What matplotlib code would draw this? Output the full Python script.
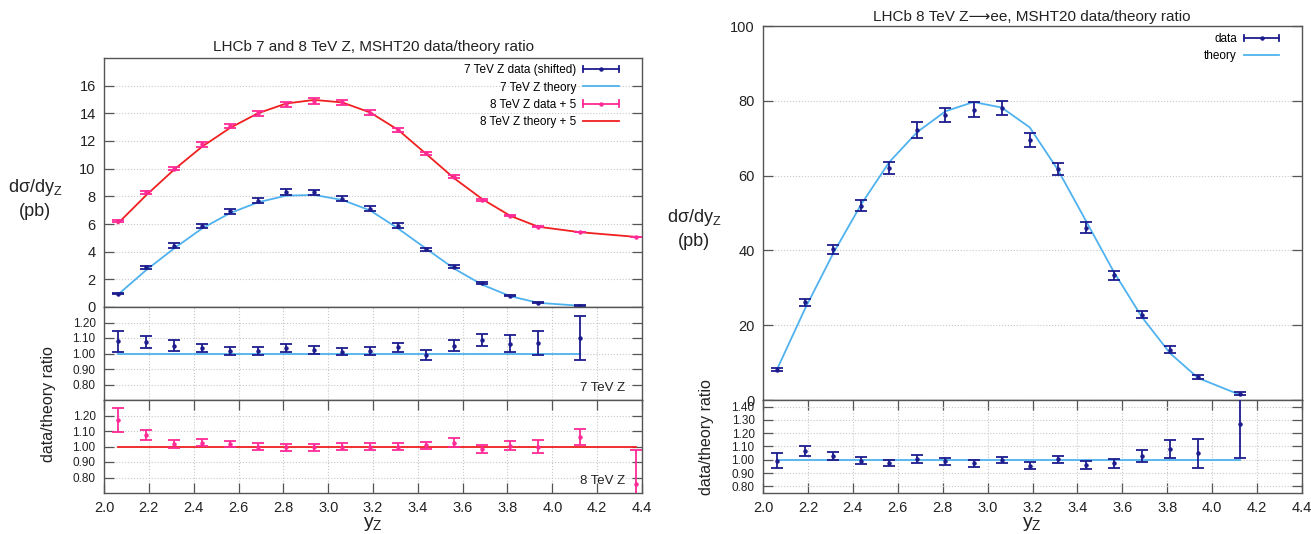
import numpy as np
import matplotlib
matplotlib.use('Agg')
import matplotlib.pyplot as plt
from matplotlib.legend_handler import HandlerBase
from matplotlib.lines import Line2D

plt.rcParams['font.family'] = ['Liberation Sans', 'DejaVu Sans']
plt.rcParams['mathtext.fontset'] = 'custom'
plt.rcParams['mathtext.rm'] = 'Liberation Sans'
plt.rcParams['mathtext.it'] = 'Liberation Sans'

# rapidity bin centres
y_bins = [2.0625, 2.1875, 2.3125, 2.4375, 2.5625, 2.6875, 2.8125, 2.9375, 3.0625,
          3.1875, 3.3125, 3.4375, 3.5625, 3.6875, 3.8125, 3.9375, 4.125, 4.375]

# LHCb 7 TeV Z (pb)
data_7 = [0.97, 2.86, 4.44, 5.87, 6.91, 7.69, 8.32, 8.29, 7.83, 7.11, 5.89, 4.17,
          2.91, 1.75, 0.83, 0.32, 0.099]
err_7 = [0.059, 0.106, 0.152, 0.142, 0.177, 0.189, 0.217, 0.203, 0.170, 0.181, 0.159,
         0.126, 0.094, 0.066, 0.041, 0.023, 0.013]
theory_7 = [0.90, 2.66, 4.23, 5.68, 6.79, 7.57, 8.05, 8.10, 7.74, 6.98, 5.67, 4.21,
            2.77, 1.61, 0.78, 0.30, 0.090]

# LHCb 8 TeV Z (pb), drawn with +5 offset
data_8 = [1.23, 3.29, 5.01, 6.76, 8.09, 9.01, 9.65, 9.91, 9.79, 9.06, 7.80, 6.10,
          4.41, 2.76, 1.60, 0.80, 0.43, 0.05]
err_8 = [0.081, 0.101, 0.128, 0.165, 0.167, 0.189, 0.204, 0.209, 0.206, 0.190, 0.164,
         0.133, 0.112, 0.076, 0.049, 0.034, 0.022, 0.0145]
theory_8 = [1.05, 3.07, 4.93, 6.59, 7.95, 9.01, 9.71, 9.97, 9.79, 9.06, 7.80, 6.06,
            4.30, 2.80, 1.59, 0.80, 0.405, 0.066]
offset_8 = 5

# LHCb 8 TeV Z -> ee (pb)
data_ee = [8.14, 26.09, 40.29, 51.97, 61.98, 72.25, 76.27, 77.61, 78.06, 69.57, 61.8,
           46.08, 33.32, 22.77, 13.5, 6.16, 1.71]
err_ee = [0.47, 0.93, 1.14, 1.41, 1.53, 2.08, 1.93, 1.99, 1.96, 1.90, 1.66, 1.44, 1.20,
          0.93, 0.83, 0.64, 0.34]
theory_ee = [8.2, 24.45, 39.19, 52.34, 63.63, 71.68, 77.2, 79.68, 78.2, 72.9, 61.6,
             47.95, 34.2, 22.15, 12.5, 5.88, 1.35]

x_ticks = [2.0, 2.2, 2.4, 2.6, 2.8, 3.0, 3.2, 3.4, 3.6, 3.8, 4.0, 4.2, 4.4]

DARK = '#1c1c8e'
LIGHT = '#4fb2ee'
PINK = '#ff2a96'
RED = '#f02020'
FRAME = '#555555'
GRID = '#c8c8c8'
TEXT = '#222222'

W, H = 1311, 534


class HBarHandler(HandlerBase):
    # gnuplot-like |--.--| key sample
    def create_artists(self, legend, orig_handle, xdescent, ydescent, width, height,
                       fontsize, trans):
        c = orig_handle.get_color()
        y = height / 2 - ydescent
        x0 = -xdescent
        x1 = x0 + width
        h = 0.4 * height
        bar = Line2D([x0, x1], [y, y], color=c, lw=1.3)
        caps = Line2D([x0, x0, np.nan, x1, x1], [y - h, y + h, np.nan, y - h, y + h],
                      color=c, lw=1.3)
        dot = Line2D([(x0 + x1) / 2], [y], marker='o', ms=2.2, color=c, ls='none')
        for a in (bar, caps, dot):
            a.set_transform(trans)
        return [bar, caps, dot]


def px_axes(left, top, right, bottom):
    return fig.add_axes([left / W, 1 - bottom / H, (right - left) / W, (bottom - top) / H])


def style(ax, xticks, xgrid, ysize):
    for s in ax.spines.values():
        s.set_color(FRAME)
        s.set_linewidth(1.0)
    ax.set_xlim(2.0, 4.4)
    ax.tick_params(axis='y', direction='in', length=7, width=0.9, color=FRAME,
                   left=True, right=True, labelsize=ysize, pad=6, labelcolor=TEXT)
    ax.yaxis.grid(True, ls=':', lw=0.8, color=GRID)
    if xticks or xgrid:
        ax.set_xticks(x_ticks)
        ax.tick_params(axis='x', direction='in', length=7 if xticks else 0, width=0.9,
                       color=FRAME, top=xticks, bottom=xticks, labelbottom=False,
                       labelsize=10.5, pad=6, labelcolor=TEXT)
        ax.xaxis.grid(True, ls=':', lw=0.8, color=GRID)
    else:
        # main panels: no x ticks, horizontal grid only
        ax.set_xticks([])
    ax.set_axisbelow(True)


def draw_data(ax, x, y, e, color):
    ax.errorbar(x, y, yerr=e, fmt='o', ms=2.2, color=color, ecolor=color,
                elinewidth=1.3, capsize=4.5, capthick=1.3, zorder=3)


fig = plt.figure(figsize=(W / 100, H / 100), dpi=100)

x7 = np.array(y_bins[:17])
x8 = np.array(y_bins)
xee = np.array(y_bins[:17])
d7, e7, t7 = map(np.array, (data_7, err_7, theory_7))
d8, e8, t8 = map(np.array, (data_8, err_8, theory_8))
dee, eee, tee = map(np.array, (data_ee, err_ee, theory_ee))

# ---- left: 7 and 8 TeV ----
ax1 = px_axes(104, 58, 642, 307)
style(ax1, False, False, 10.5)
ax1.set_ylim(0, 18)
ax1.set_yticks(range(0, 17, 2))
ax1.plot(x7, t7, color=LIGHT, lw=1.3, zorder=2)
draw_data(ax1, x7, d7, e7, DARK)
ax1.plot(x8, t8 + offset_8, color=RED, lw=1.3, zorder=2)
draw_data(ax1, x8, d8 + offset_8, e8, PINK)

handles = [Line2D([], [], color=DARK), Line2D([], [], color=LIGHT, lw=1.3),
           Line2D([], [], color=PINK), Line2D([], [], color=RED, lw=1.3)]
labels = ['7 TeV Z data (shifted)', '7 TeV Z theory', '8 TeV Z data + 5',
          '8 TeV Z theory + 5']
ax1.legend(handles, labels, loc='upper right', bbox_to_anchor=(0.957, 0.975),
           frameon=False, markerfirst=False, fontsize=8.5, handlelength=3.0,
           handletextpad=0.6, labelspacing=0.45, borderaxespad=0, borderpad=0,
           handler_map={handles[0]: HBarHandler(), handles[2]: HBarHandler()})

ax2 = px_axes(104, 307, 642, 400)
style(ax2, False, True, 8.5)
ax2.set_ylim(0.7, 1.3)
ax2.set_yticks([0.8, 0.9, 1.0, 1.1, 1.2])
ax2.yaxis.set_major_formatter('{x:.2f}')
ax2.plot(x7, t7 / t7, color=LIGHT, lw=1.3, zorder=2)
draw_data(ax2, x7, d7 / t7, e7 / t7, DARK)
ax2.text(0.968, 0.13, '7 TeV Z', transform=ax2.transAxes, ha='right', va='center',
         fontsize=9.5, color=TEXT)

ax3 = px_axes(104, 400, 642, 493)
style(ax3, True, True, 8.5)
ax3.tick_params(axis='x', labelbottom=True)
ax3.set_ylim(0.7, 1.3)
ax3.set_yticks([0.8, 0.9, 1.0, 1.1, 1.2])
ax3.yaxis.set_major_formatter('{x:.2f}')
ax3.xaxis.set_major_formatter('{x:.1f}')
ax3.plot(x8, t8 / t8, color=RED, lw=1.3, zorder=2)
draw_data(ax3, x8, d8 / t8, e8 / t8, PINK)
ax3.text(0.968, 0.13, '8 TeV Z', transform=ax3.transAxes, ha='right', va='center',
         fontsize=9.5, color=TEXT)

fig.text(373 / W, 1 - 47 / H, 'LHCb 7 and 8 TeV Z, MSHT20 data/theory ratio',
         ha='center', va='center', fontsize=11, color=TEXT)
fig.text(35 / W, 1 - 187 / H, r'd$\sigma$/dy$_\mathrm{Z}$', ha='center', va='center',
         fontsize=13, color=TEXT)
fig.text(35 / W, 1 - 211 / H, '(pb)', ha='center', va='center', fontsize=13,
         color=TEXT)
fig.text(48 / W, 1 - 404 / H, 'data/theory ratio', rotation=90, ha='center',
         va='center', fontsize=11.5, color=TEXT)
fig.text(373 / W, 1 - 524 / H, r'y$_\mathrm{Z}$', ha='center', va='center',
         fontsize=14, color=TEXT)

# ---- right: 8 TeV Z -> ee ----
ax4 = px_axes(763, 26, 1302, 400)
style(ax4, False, False, 10.5)
ax4.set_ylim(0, 100)
ax4.set_yticks(range(0, 101, 20))
ax4.plot(xee, tee, color=LIGHT, lw=1.3, zorder=2)
draw_data(ax4, xee, dee, eee, DARK)
h_data = Line2D([], [], color=DARK)
h_th = Line2D([], [], color=LIGHT, lw=1.3)
ax4.legend([h_data, h_th], ['data', 'theory'], loc='upper right',
           bbox_to_anchor=(0.958, 0.981), frameon=False, markerfirst=False,
           fontsize=8.5, handlelength=3.0, handletextpad=0.6, labelspacing=0.45,
           borderaxespad=0, borderpad=0, handler_map={h_data: HBarHandler()})

ax5 = px_axes(763, 400, 1302, 493)
style(ax5, True, True, 8.5)
ax5.tick_params(axis='x', labelbottom=True)
ax5.set_ylim(0.75, 1.45)
ax5.set_yticks([0.8, 0.9, 1.0, 1.1, 1.2, 1.3, 1.4])
ax5.yaxis.set_major_formatter('{x:.2f}')
ax5.xaxis.set_major_formatter('{x:.1f}')
ax5.plot(xee, tee / tee, color=LIGHT, lw=1.3, zorder=2)
draw_data(ax5, xee, dee / tee, eee / tee, DARK)

fig.text(1032 / W, 1 - 17 / H, 'LHCb 8 TeV Z\u27f6ee, MSHT20 data/theory ratio',
         ha='center', va='center', fontsize=11, color=TEXT)
fig.text(694 / W, 1 - 217 / H, r'd$\sigma$/dy$_\mathrm{Z}$', ha='center', va='center',
         fontsize=13, color=TEXT)
fig.text(694 / W, 1 - 241 / H, '(pb)', ha='center', va='center', fontsize=13,
         color=TEXT)
fig.text(707 / W, 1 - 437 / H, 'data/theory ratio', rotation=90, ha='center',
         va='center', fontsize=11.5, color=TEXT)
fig.text(1032 / W, 1 - 524 / H, r'y$_\mathrm{Z}$', ha='center', va='center',
         fontsize=14, color=TEXT)

fig.savefig('out.png', dpi=100)
